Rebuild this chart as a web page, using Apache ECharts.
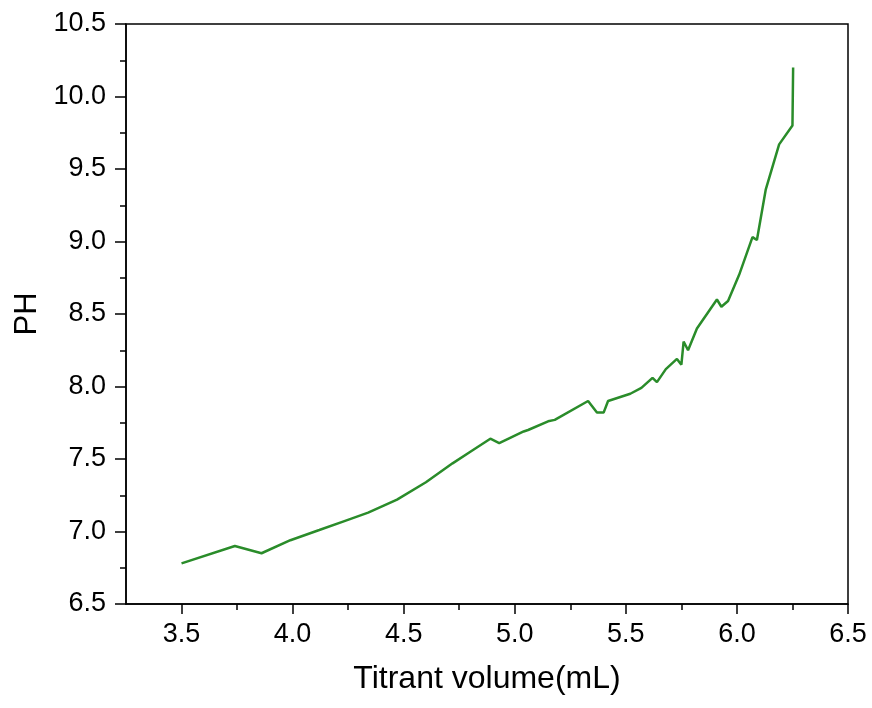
<!DOCTYPE html>
<html lang="en">
<head>
  <meta charset="UTF-8">
  <title>titration</title>
  <style>
    html, body {
      height: 100%;
      width: 100%;
      margin: 0;
      padding: 0;
      background: #fff;
    }
  </style>
  <script src="https://cdn.jsdelivr.net/npm/echarts@6/dist/echarts.min.js"></script>
</head>
<body>
<div id="main" style="width: 872px; height: 708px;"></div>

<script>
  var volume = [3.50, 3.74, 3.86, 3.99, 4.12, 4.23, 4.34, 4.47, 4.60, 4.72,
                4.80, 4.89, 4.93, 5.04, 5.06, 5.15, 5.18, 5.33, 5.37, 5.40,
                5.42, 5.52, 5.57, 5.62, 5.64, 5.68, 5.73, 5.75, 5.76, 5.78,
                5.82, 5.91, 5.93, 5.96, 6.01, 6.07, 6.09, 6.13, 6.19, 6.25, 6.253];
  var ph = [6.78, 6.90, 6.85, 6.94, 7.01, 7.07, 7.13, 7.22, 7.34, 7.47,
            7.55, 7.64, 7.61, 7.69, 7.70, 7.76, 7.77, 7.90, 7.82, 7.82,
            7.90, 7.95, 7.99, 8.06, 8.03, 8.12, 8.19, 8.15, 8.31, 8.25,
            8.40, 8.60, 8.55, 8.59, 8.77, 9.03, 9.01, 9.36, 9.67, 9.80, 10.20];

  var xMajor = [3.5, 4.0, 4.5, 5.0, 5.5, 6.0, 6.5];
  var xMinor = [3.75, 4.25, 4.75, 5.25, 5.75, 6.25];

  var points = volume.map(function (v, i) { return [v, ph[i]]; });

  var chart = echarts.init(document.getElementById('main'));
  var font = 'Liberation Sans, Arial, sans-serif';
  var black = '#000';

  var option = {
    animation: false,
    grid: {
      left: 126, right: 24, top: 24, bottom: 104,
      show: true, borderColor: black, borderWidth: 1.5
    },
    xAxis: [
      {
        type: 'value', min: 3.25, max: 6.5,
        name: 'Titrant volume(mL)', nameLocation: 'middle', nameGap: 59,
        nameTextStyle: { fontFamily: font, fontSize: 32, color: black },
        axisLine: { lineStyle: { color: black, width: 1.5 } },
        axisTick: { customValues: xMajor, length: 10, lineStyle: { color: black, width: 1.5 } },
        axisLabel: {
          customValues: xMajor, margin: 17,
          fontFamily: font, fontSize: 27, color: black,
          formatter: function (v) { return v.toFixed(1); }
        },
        splitLine: { show: false }
      },
      {
        type: 'value', min: 3.25, max: 6.5, position: 'bottom',
        axisLine: { show: false },
        axisTick: { customValues: xMinor, length: 6, lineStyle: { color: black, width: 1.5 } },
        axisLabel: { show: false },
        splitLine: { show: false }
      }
    ],
    yAxis: {
      type: 'value', min: 6.5, max: 10.5, interval: 0.5,
      name: 'PH', nameLocation: 'middle', nameGap: 82,
      nameTextStyle: { fontFamily: font, fontSize: 31, color: black },
      axisLine: { show: true, lineStyle: { color: black, width: 1.5 } },
      axisTick: { show: true, length: 11, lineStyle: { color: black, width: 1.5 } },
      minorTick: { show: true, splitNumber: 2, length: 6, lineStyle: { color: black, width: 1.5 } },
      axisLabel: {
        margin: 20, fontFamily: font, fontSize: 27, color: black,
        formatter: function (v) { return v.toFixed(1); }
      },
      splitLine: { show: false }
    },
    series: [
      {
        type: 'line',
        data: points,
        showSymbol: false,
        lineStyle: { color: '#2a8c2a', width: 2.5 }
      }
    ]
  };

  chart.setOption(option);
</script>
</body>
</html>
